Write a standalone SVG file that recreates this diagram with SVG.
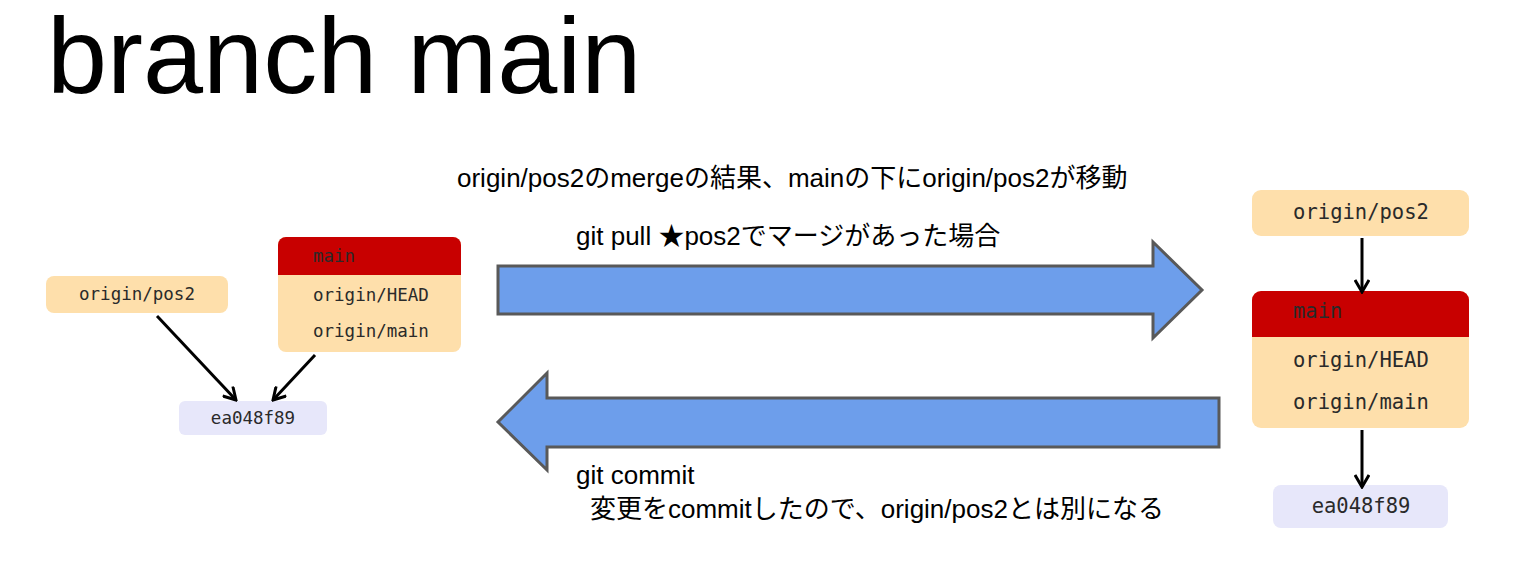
<svg xmlns="http://www.w3.org/2000/svg" width="1526" height="579" viewBox="0 0 1526 579">
<defs>
<style>
.ref{fill:#fedfab}
.head{fill:#c80000}
.commit{fill:#e7e7fa}
.mono{font-family:"DejaVu Sans Mono","Liberation Mono",monospace;fill:#2a2a2a}
.s{font-size:17.5px}
.l{font-size:20.5px}
.lbl{font-family:"Liberation Sans","Noto Sans CJK JP",sans-serif;font-size:26px;fill:#000}
.conn{stroke:#000;stroke-width:3;fill:none;marker-end:url(#ah)}
.big{fill:#6d9eeb;stroke:#595959;stroke-width:3;stroke-linejoin:miter}
</style>
<marker id="ah" viewBox="0 0 16 16" refX="14" refY="8" markerWidth="16" markerHeight="16" markerUnits="userSpaceOnUse" orient="auto">
<path d="M2,1 L14,8 L2,15" fill="none" stroke="#000" stroke-width="3"/>
</marker>
</defs>
<rect width="1526" height="579" fill="#fff"/>
<text id="title" x="47" y="93" font-family="Liberation Sans, Arial, sans-serif" font-size="108" fill="#000">branch main</text>

<g id="left-pos2">
<rect class="ref" x="46" y="276" width="182" height="37" rx="8"/>
<text class="mono s" x="137" y="300" text-anchor="middle">origin/pos2</text>
</g>
<g id="left-main">
<rect class="ref" x="278" y="237" width="183" height="115" rx="8"/>
<path class="head" d="M278,275 V245 A8,8 0 0 1 286,237 H453 A8,8 0 0 1 461,245 V275 Z"/>
<text class="mono s" x="313" y="262">main</text>
<text class="mono s" x="313" y="301">origin/HEAD</text>
<text class="mono s" x="313" y="337">origin/main</text>
</g>
<g id="left-commit">
<rect class="commit" x="179" y="401" width="148" height="34" rx="6"/>
<text class="mono s" x="253" y="424" text-anchor="middle">ea048f89</text>
</g>

<g id="right-pos2">
<rect class="ref" x="1252" y="190" width="217" height="46" rx="9"/>
<text class="mono l" x="1361" y="219" text-anchor="middle">origin/pos2</text>
</g>
<g id="right-main">
<rect class="ref" x="1252" y="291" width="217" height="137" rx="9"/>
<path class="head" d="M1252,337 V300 A9,9 0 0 1 1261,291 H1460 A9,9 0 0 1 1469,300 V337 Z"/>
<text class="mono l" x="1293" y="318">main</text>
<text class="mono l" x="1293" y="367">origin/HEAD</text>
<text class="mono l" x="1293" y="409">origin/main</text>
</g>
<g id="right-commit">
<rect class="commit" x="1273" y="485" width="175" height="43" rx="8"/>
<text class="mono l" x="1361" y="513" text-anchor="middle">ea048f89</text>
</g>

<g id="connectors">
<line class="conn" x1="157" y1="316" x2="236" y2="400"/>
<line class="conn" x1="315" y1="355" x2="273" y2="400"/>
<line class="conn" x1="1362" y1="238" x2="1362" y2="292"/>
<line class="conn" x1="1362" y1="430" x2="1362" y2="487"/>
</g>

<g id="pull-arrow">
<polygon class="big" points="498,266 1153,266 1153,242 1202,290 1153,338 1153,314 498,314"/>
</g>
<g id="commit-arrow">
<polygon class="big" points="1219,398 547,398 547,373 498,422 547,470 547,447 1219,447"/>
</g>

<g id="labels">
<text class="lbl" x="457" y="187">origin/pos2のmergeの結果、mainの下にorigin/pos2が移動</text>
<text class="lbl" x="576" y="245">git pull ★pos2でマージがあった場合</text>
<text class="lbl" x="576" y="484">git commit</text>
<text class="lbl" x="590" y="518">変更をcommitしたので、origin/pos2とは別になる</text>
</g>
</svg>
